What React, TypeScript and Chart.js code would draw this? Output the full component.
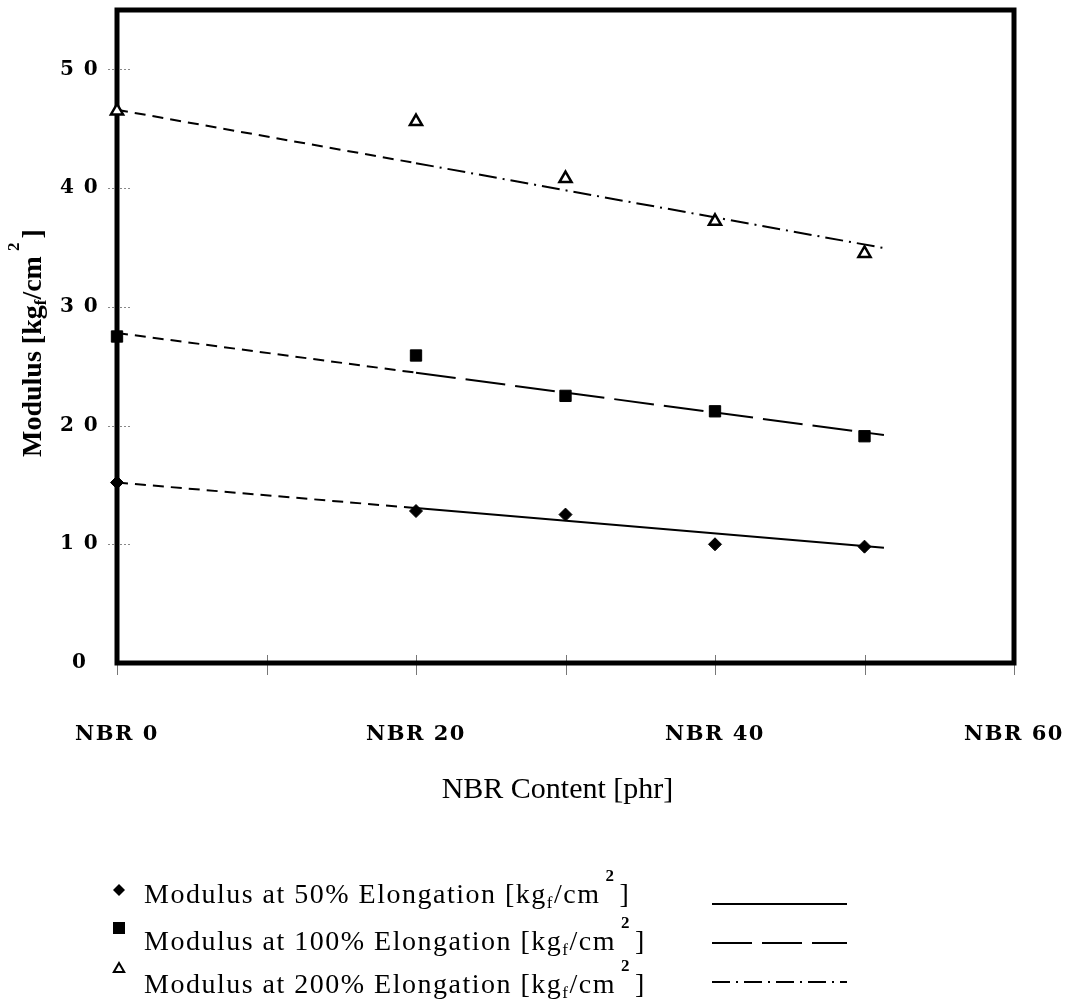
import { useEffect, useRef } from 'react';
import { Chart, registerables } from 'chart.js';

Chart.register(...registerables);

// NBR content [phr] of the measured compounds
const nbrContent = [0, 20, 30, 40, 50];
// Measured moduli [kgf/cm2]
const modulus50 = [15.2, 12.8, 12.5, 10.0, 9.8];
const modulus100 = [27.5, 25.9, 22.5, 21.2, 19.1];
const modulus200 = [46.5, 45.6, 40.8, 37.2, 34.5];

// Fitted lines: value at 0 phr, at 20 phr (where the dash style changes) and at the line end
const trendX = [0, 20, 51.3];
const trend50 = [15.2, 13.05, 9.7];
const trend100 = [27.8, 24.45, 19.2];
const trend200 = [46.6, 42.1, 34.95];

const xTickLabels = ['NBR 0', 'NBR 20', 'NBR 40', 'NBR 60'];
const yTickLabels = ['0', '1 0', '2 0', '3 0', '4 0', '5 0'];
const legendLabels = [
  'Modulus at 50% Elongation [kg',
  'Modulus at 100% Elongation [kg',
  'Modulus at 200% Elongation [kg',
];

const SHORT_DASH = [11, 7];
const LONG_DASH = [40, 10];
const DASH_DOT = [18, 6, 2, 6];
const lineDashes = [[], LONG_DASH, DASH_DOT];

const SERIF = '"Liberation Serif", "Times New Roman", serif';
const TICK_FONT = '"DejaVu Serif", serif';

const pts = (xs: number[], ys: number[]) => xs.map((x, i) => ({ x, y: ys[i] }));

type Part = { t: string; size: number; bold?: boolean; dy?: number; gap?: number };

function drawParts(ctx: CanvasRenderingContext2D, parts: Part[], x0: number, y0: number) {
  let x = x0;
  for (const p of parts) {
    x += p.gap || 0;
    ctx.font = `${p.bold ? 'bold ' : ''}${p.size}px ${SERIF}`;
    ctx.fillText(p.t, x, y0 + (p.dy || 0));
    x += ctx.measureText(p.t).width;
  }
}

function unitParts(lead: string, size: number, bold: boolean): Part[] {
  return [
    { t: lead, size, bold },
    { t: 'f', size: Math.round(size * 0.62), bold, dy: 5 },
    { t: '/cm', size, bold },
    { t: '2', size: Math.round(size * 0.62), bold: true, dy: -22, gap: 5 },
    { t: ']', size, bold, gap: 4 },
  ];
}

const decorations = {
  id: 'decorations',
  beforeDraw(chart: any) {
    chart.ctx.letterSpacing = '1.5px';
  },
  beforeDatasetsDraw(chart: any) {
    const ctx: CanvasRenderingContext2D = chart.ctx;
    ctx.letterSpacing = '0px';
    const { left, right, top, bottom } = chart.chartArea;
    const xs = chart.scales.x;
    const ys = chart.scales.y;
    ctx.save();
    // x tick marks crossing the axis
    ctx.strokeStyle = '#777';
    ctx.lineWidth = 1;
    for (const t of xs.ticks) {
      const px = Math.round(xs.getPixelForValue(t.value)) + 0.5;
      ctx.beginPath();
      ctx.moveTo(px, bottom - 8);
      ctx.lineTo(px, bottom + 12);
      ctx.stroke();
    }
    // dotted y tick marks
    ctx.setLineDash([2, 2]);
    ctx.strokeStyle = '#888';
    for (const t of ys.ticks) {
      if (t.value === 0) continue;
      const py = Math.round(ys.getPixelForValue(t.value)) + 0.5;
      ctx.beginPath();
      ctx.moveTo(left - 9, py);
      ctx.lineTo(left + 15, py);
      ctx.stroke();
    }
    ctx.setLineDash([]);
    // heavy frame round the plot
    ctx.strokeStyle = '#000';
    ctx.lineWidth = 5;
    ctx.strokeRect(left, top, right - left, bottom - top);
    ctx.restore();
  },
  afterDraw(chart: any) {
    const ctx: CanvasRenderingContext2D = chart.ctx;
    const { left, right, bottom } = chart.chartArea;
    ctx.save();
    ctx.fillStyle = '#000';
    ctx.textBaseline = 'alphabetic';
    ctx.textAlign = 'left';

    // y axis title, rotated
    ctx.save();
    ctx.translate(41, 457);
    ctx.rotate(-Math.PI / 2);
    drawParts(ctx, unitParts('Modulus [kg', 28, true), 0, 0);
    ctx.restore();

    // x axis title
    ctx.font = `30px ${SERIF}`;
    ctx.textAlign = 'center';
    ctx.fillText('NBR Content [phr]', (left + right) / 2 - 8, bottom + 135);
    ctx.textAlign = 'left';

    // legend
    ctx.letterSpacing = '1.5px';
    const markerY = [890, 928, 969];
    const textY = [903, 950, 993];
    const lineY = [904, 943, 982];
    legendLabels.forEach((label, i) => {
      const mx = 119;
      const my = markerY[i];
      ctx.fillStyle = '#000';
      ctx.strokeStyle = '#000';
      ctx.beginPath();
      if (i === 0) {
        ctx.moveTo(mx, my - 6);
        ctx.lineTo(mx + 6, my);
        ctx.lineTo(mx, my + 6);
        ctx.lineTo(mx - 6, my);
        ctx.closePath();
        ctx.fill();
      } else if (i === 1) {
        ctx.rect(mx - 6, my - 6, 12, 12);
        ctx.fill();
      } else {
        ctx.moveTo(mx, my - 6);
        ctx.lineTo(mx + 5.2, my + 3);
        ctx.lineTo(mx - 5.2, my + 3);
        ctx.closePath();
        ctx.lineWidth = 2;
        ctx.stroke();
      }
      drawParts(ctx, unitParts(label, 28, false), 144, textY[i]);
      ctx.save();
      ctx.letterSpacing = '0px';
      ctx.lineWidth = 2;
      ctx.setLineDash(lineDashes[i]);
      ctx.beginPath();
      ctx.moveTo(712, lineY[i]);
      ctx.lineTo(847, lineY[i]);
      ctx.stroke();
      ctx.restore();
    });
    ctx.letterSpacing = '0px';
    ctx.restore();
  },
};

function trendSet(values: number[], dash: number[]) {
  return {
    type: 'scatter' as const,
    data: pts(trendX, values),
    showLine: true,
    borderColor: '#000',
    borderWidth: 2,
    pointRadius: 0,
    clip: false as const,
    segment: {
      borderDash: (c: any) => (c.p0DataIndex === 0 ? SHORT_DASH : dash),
    },
  };
}

export default function App() {
  const ref = useRef<HTMLCanvasElement | null>(null);

  useEffect(() => {
    if (!ref.current) return;
    const chart = new Chart(ref.current, {
      type: 'scatter',
      data: {
        datasets: [
          {
            data: pts(nbrContent, modulus50),
            pointStyle: 'rectRot',
            pointRadius: 6.5,
            backgroundColor: '#000',
            borderColor: '#000',
            borderWidth: 1,
            clip: false,
          },
          {
            data: pts(nbrContent, modulus100),
            pointStyle: 'rect',
            pointRadius: 8,
            backgroundColor: '#000',
            borderColor: '#000',
            borderWidth: 1,
            clip: false,
          },
          {
            data: pts(nbrContent, modulus200),
            pointStyle: 'triangle',
            pointRadius: 7,
            backgroundColor: '#fff',
            borderColor: '#000',
            borderWidth: 2.5,
            clip: false,
          },
          trendSet(trend50, []),
          trendSet(trend100, LONG_DASH),
          trendSet(trend200, DASH_DOT),
        ] as any,
      },
      options: {
        animation: false,
        responsive: false,
        devicePixelRatio: 1,
        layout: { autoPadding: false, padding: { left: 0, top: 10, right: 60, bottom: 0 } },
        plugins: { legend: { display: false }, tooltip: { enabled: false } },
        events: [],
        scales: {
          x: {
            type: 'linear',
            min: 0,
            max: 60,
            afterFit: (s: any) => {
              s.height = 339;
              s.paddingLeft = 0;
              s.paddingRight = 0;
            },
            ticks: {
              stepSize: 10,
              autoSkip: false,
              maxRotation: 0,
              padding: 59,
              color: '#000',
              font: { family: TICK_FONT, weight: 'bold', size: 21 },
              callback: (v: any) => (v % 20 === 0 ? xTickLabels[v / 20] : ''),
            },
            grid: { display: false, drawTicks: false },
            border: { display: false },
          },
          y: {
            type: 'linear',
            min: 0,
            max: 55,
            afterFit: (s: any) => {
              s.width = 117;
              s.paddingTop = 0;
              s.paddingBottom = 0;
            },
            afterBuildTicks: (s: any) => {
              s.ticks = s.ticks.filter((t: any) => t.value % 10 === 0);
            },
            ticks: {
              stepSize: 10,
              crossAlign: 'center',
              padding: 20,
              color: '#000',
              font: { family: TICK_FONT, weight: 'bold', size: 20 },
              callback: (v: any) => yTickLabels[v / 10],
            },
            grid: { display: false, drawTicks: false },
            border: { display: false },
          },
        },
      } as any,
      plugins: [decorations],
    });
    return () => chart.destroy();
  }, []);

  return (
    <div style={{ position: 'absolute', left: 0, top: 0, width: 1074, height: 1002, background: '#fff' }}>
      <canvas ref={ref} width={1074} height={1002} style={{ display: 'block' }} />
    </div>
  );
}
